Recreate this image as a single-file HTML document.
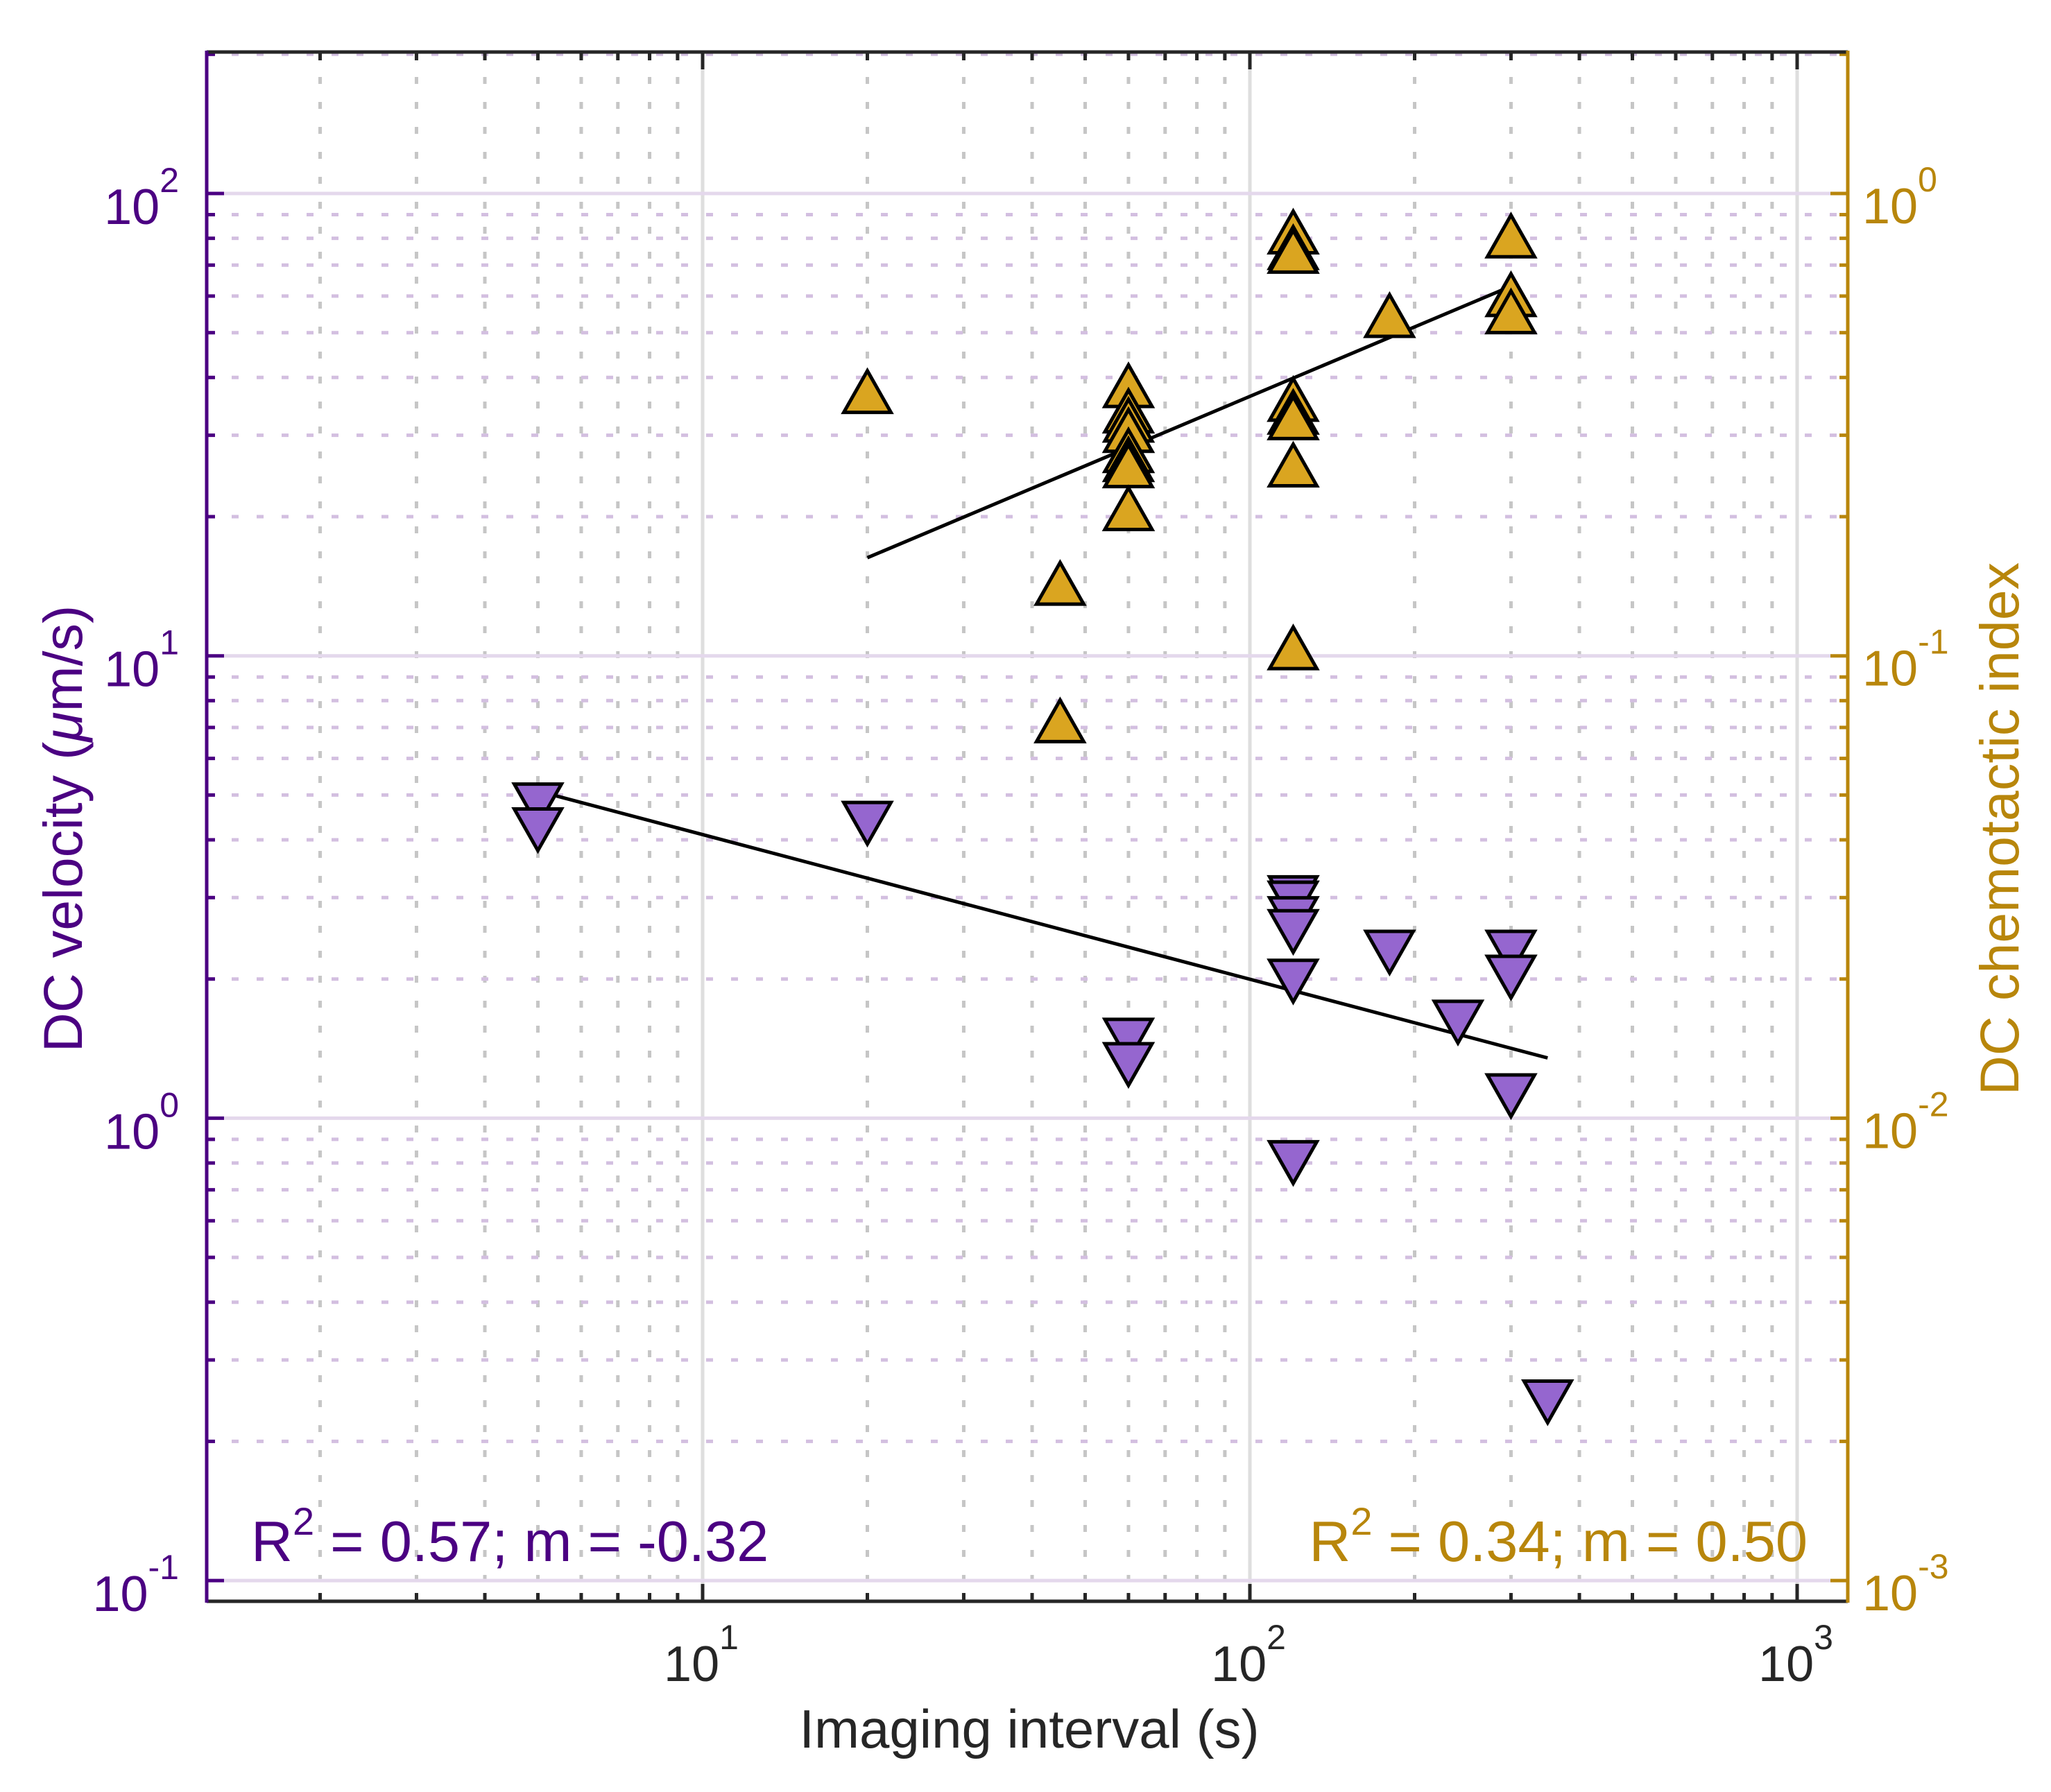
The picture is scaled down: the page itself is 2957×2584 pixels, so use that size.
<!DOCTYPE html>
<html><head><meta charset="utf-8"><style>
html,body{margin:0;padding:0;background:#fff;}
svg{display:block;font-family:"Liberation Sans",sans-serif;}
</style></head><body>
<svg id="chart" width="2957" height="2584" viewBox="0 0 2957 2584" xmlns="http://www.w3.org/2000/svg">
<rect x="0" y="0" width="2957" height="2584" fill="#fff"/>
<g id="grid"></g>
<g id="fits"></g>
<g id="marks"></g>
<g id="axes"></g>
<text x="362" y="2251" font-size="83" fill="#4b0082">R<tspan dy="-38" font-size="56">2</tspan><tspan dy="38"> = 0.57; m = -0.32</tspan></text>
<text x="2606" y="2251" font-size="83" fill="#b8860b" text-anchor="end">R<tspan dy="-38" font-size="56">2</tspan><tspan dy="38"> = 0.34; m = 0.50</tspan></text>
<text x="1484" y="2520" font-size="78" fill="#262626" text-anchor="middle">Imaging interval (s)</text>
<text transform="translate(118,1195) rotate(-90)" font-size="79" fill="#4b0082" text-anchor="middle">DC velocity (<tspan font-style="italic">μ</tspan>m/s)</text>
<text transform="translate(2910,1195) rotate(-90)" font-size="79" fill="#b8860b" text-anchor="middle">DC chemotactic index</text>
</svg>
<script>
const velX = [5,5,20,60,60,120,120,120,120,120,120,180,240,300,300,300,350];
const velY = [4.81,4.25,4.39,1.49,1.32,3.03,2.95,2.73,2.56,2.0,0.81,2.31,1.63,2.31,2.04,1.13,0.246];
const ciX = [20,45,45,60,60,60,60,60,60,60,60,120,120,120,120,120,120,120,120,180,300,300,300];
const ciY = [0.369,0.142,0.0716,0.38,0.335,0.32,0.304,0.275,0.263,0.255,0.206,0.817,0.756,0.742,0.355,0.333,0.324,0.256,0.103,0.539,0.801,0.598,0.549];
const velFitX = [5,350];
const velFitY = [5.1,1.35];
const ciFitX = [20,300];
const ciFitY = [0.163,0.63];
const xTickExps = [1,2,3];
const leftTickExps = [-1,0,1,2];
const rightTickExps = [-3,-2,-1,0];

const NS="http://www.w3.org/2000/svg";
const L=298,R=2664,T=75,B=2309;
const xpx=v=>224+789*Math.log10(v);
const ypx=v=>279+666.7*(2-Math.log10(v));
const ypxR=v=>279+666.7*(0-Math.log10(v));
function mk(tag,attrs,parent){const e=document.createElementNS(NS,tag);for(const k in attrs)e.setAttribute(k,attrs[k]);parent.appendChild(e);return e;}
const grid=document.getElementById('grid'),axes=document.getElementById('axes'),marks=document.getElementById('marks'),fits=document.getElementById('fits');

for(let e=0;e<=3;e++)for(let m=2;m<=9;m++){const v=m*Math.pow(10,e);const x=xpx(v);if(x<=L+2||x>=R-2)continue;
 const g=mk('line',{x1:x,y1:T,x2:x,y2:B,stroke:'#c6c6c6','stroke-width':5,'stroke-dasharray':'10 26'},grid);
 
 const t1=mk('line',{x1:x,y1:B,x2:x,y2:B-12,stroke:'#262626','stroke-width':5},axes);
 
 const t2=mk('line',{x1:x,y1:T,x2:x,y2:T+12,stroke:'#262626','stroke-width':5},axes);
 }
for(let e=-2;e<=2;e++)for(let m=2;m<=9;m++){const v=m*Math.pow(10,e);const y=ypx(v);if(y<=T+2||y>=B-2)continue;
 const g=mk('line',{x1:L,y1:y,x2:R,y2:y,stroke:'#d3bfe0','stroke-width':5,'stroke-dasharray':'10 26'},grid);
 
 const t1=mk('line',{x1:L,y1:y,x2:L+12,y2:y,stroke:'#4b0082','stroke-width':5},axes);
 
 const t2=mk('line',{x1:R,y1:y,x2:R-12,y2:y,stroke:'#b8860b','stroke-width':5},axes);
 }
xTickExps.forEach(e=>{const x=xpx(Math.pow(10,e));
 const g=mk('line',{x1:x,y1:T,x2:x,y2:B,stroke:'#dedede','stroke-width':5},grid);
 
 const t=mk('line',{x1:x,y1:B,x2:x,y2:B-25,stroke:'#262626','stroke-width':5},axes);
 
 const t2=mk('line',{x1:x,y1:T,x2:x,y2:T+25,stroke:'#262626','stroke-width':5},axes);
 
 const lb=mk('text',{x:x-2,y:2424,'font-size':72,fill:'#262626','text-anchor':'middle'},axes);
 
 lb.innerHTML='10<tspan dy="-46" font-size="50">'+e+'</tspan>';});
leftTickExps.forEach(e=>{const y=ypx(Math.pow(10,e));
 const g=mk('line',{x1:L+25,y1:y,x2:R-25,y2:y,stroke:'#e4d8ec','stroke-width':5},grid);
 
 const t=mk('line',{x1:L,y1:y,x2:L+25,y2:y,stroke:'#4b0082','stroke-width':5},axes);
 
 const lb=mk('text',{x:258,y:y+44,'font-size':72,fill:'#4b0082','text-anchor':'end'},axes);
 
 lb.innerHTML='10<tspan dy="-46" font-size="50">'+e+'</tspan>';});
rightTickExps.forEach(e=>{const y=ypxR(Math.pow(10,e));
 const t=mk('line',{x1:R,y1:y,x2:R-25,y2:y,stroke:'#b8860b','stroke-width':5},axes);
 
 const lb=mk('text',{x:2685,y:y+43,'font-size':72,fill:'#b8860b'},axes);
 
 lb.innerHTML='10<tspan dy="-46" font-size="50">'+e+'</tspan>';});
let a;
a=mk('line',{x1:L,y1:T,x2:R,y2:T,stroke:'#262626','stroke-width':5},axes);
a=mk('line',{x1:L,y1:B,x2:R,y2:B,stroke:'#262626','stroke-width':5},axes);
a=mk('line',{x1:L,y1:T-2,x2:L,y2:B+2,stroke:'#4b0082','stroke-width':5},axes);
a=mk('line',{x1:R,y1:T-2,x2:R,y2:B+2,stroke:'#b8860b','stroke-width':5},axes);
let f=mk('line',{x1:xpx(velFitX[0]),y1:ypx(velFitY[0]),x2:xpx(velFitX[1]),y2:ypx(velFitY[1]),stroke:'#000','stroke-width':5},fits);

f=mk('line',{x1:xpx(ciFitX[0]),y1:ypxR(ciFitY[0]),x2:xpx(ciFitX[1]),y2:ypxR(ciFitY[1]),stroke:'#000','stroke-width':5},fits);

ciX.forEach((xv,i)=>{const x=xpx(xv),y=ypxR(ciY[i]);
 const p=mk('polygon',{points:`${x},${y-33} ${x+34},${y+27} ${x-34},${y+27}`,fill:'#daa520',stroke:'#000','stroke-width':5,'stroke-linejoin':'miter'},marks);
 });
velX.forEach((xv,i)=>{const x=xpx(xv),y=ypx(velY[i]);
 const p=mk('polygon',{points:`${x},${y+33} ${x+34},${y-27} ${x-34},${y-27}`,fill:'#9566cf',stroke:'#000','stroke-width':5,'stroke-linejoin':'miter'},marks);
 });
</script>
</body></html>
